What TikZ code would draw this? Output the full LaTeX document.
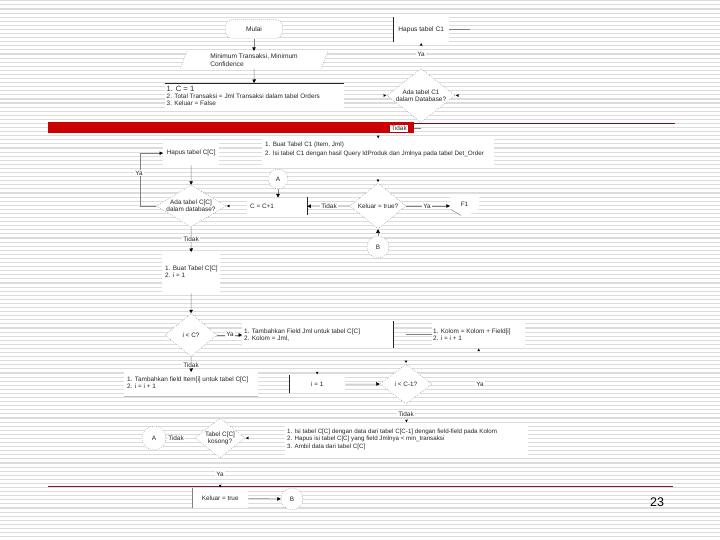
\documentclass[tikz,border=0pt]{standalone}
\usepackage{fontspec}
\setmainfont{Liberation Sans}
\usetikzlibrary{shapes.geometric,arrows.meta,calc}
\definecolor{stripe}{HTML}{DCDCDC}
\definecolor{barred}{HTML}{CC0000}
\definecolor{linered}{HTML}{8E0B0B}
\definecolor{botred}{HTML}{7A1C2C}
\begin{document}
\begin{tikzpicture}[x=1pt,y=-1pt,
  txt/.style={font=\fontsize{6.4}{7}\selectfont, text=black!85},
  box/.style={rectangle, fill=white, inner sep=0pt, anchor=north west, txt},
  btxt/.style={txt, inner sep=0pt, align=left, anchor=west},
  lbl/.style={txt, fill=white, inner sep=1pt},
  dotline/.style={draw=black!45, line width=0.5pt, dash pattern=on 0.6pt off 1.4pt},
  dia/.style={diamond, fill=white, dotline, inner sep=0pt, txt, align=center},
  conn/.style={circle, fill=white, dotline, inner sep=0pt, txt},
  vis/.style={draw=black!50, line width=0.5pt, -{Triangle[length=3.5pt,width=3.5pt,color=black]}},
  hid/.style={draw=white, draw opacity=0, line width=0.5pt, -{Triangle[length=3.5pt,width=3.5pt,color=black]}},
  seg/.style={draw=black!50, line width=0.5pt},
  bedge/.style={draw=black!85, line width=0.8pt},
]
\useasboundingbox (0,0) rectangle (720,540);
\fill[white] (0,0) rectangle (720,540);
\foreach \k in {0,...,131} {\draw[stripe, line width=1.1pt] (0,{0.8+\k*4.09}) -- (720,{0.8+\k*4.09});}
\draw[linered, line width=1.1pt] (48,123.8) -- (675,123.8);
\fill[barred] (48,122.5) rectangle (414,133);
\draw[botred, line width=1.1pt] (48,486.8) -- (673,486.8);

% ---------- top ----------
\node[box, anchor=center, minimum width=57pt, minimum height=19pt, rounded corners=7pt, dotline, font=\fontsize{6.6}{7}\selectfont] (mulai) at (254,29) {Mulai};
\fill[white] (187,51) -- (328,51) -- (321,69) -- (180,69) -- cycle;
\draw[dotline] (187,51) -- (180,69);
\draw[dotline] (328,51) -- (321,69);
\node[txt, align=left, inner sep=0pt, minimum height=18pt, font=\fontsize{6.6}{7.5}\selectfont] (param) at (254,60) {Minimum Transaksi, Minimum\\Confidence};
\node[box, minimum width=179pt, minimum height=25pt] (init) at (164.5,83) {};
\draw[bedge] (init.north west) -- (init.north east);
\node[btxt] (initT) at ($(init.west)+(2,0)$) {{\fontsize{7.6}{8}\selectfont 1. C = 1}\\2. Total Transaksi = Jml Transaksi dalam tabel Orders\\3. Keluar = False};
\node[box, minimum width=56pt, minimum height=25pt, font=\fontsize{6.6}{7}\selectfont] (hapus1) at (393,17) {Hapus tabel C1};
\draw[bedge] (hapus1.north west) -- (hapus1.south west);
\node[dia, minimum width=68pt, minimum height=54pt, aspect=1.26] (cek1) at (421,95.5) {Ada tabel C1\\dalam Database?};

% ---------- middle ----------
\node[box, minimum width=232pt, minimum height=26pt] (buat1) at (262,139) {};
\node[btxt, font=\fontsize{6.3}{9}\selectfont] (buat1T) at ($(buat1.west)+(3,-2.5)$) {1. Buat Tabel C1 (Item, Jml)\\2. Isi tabel C1 dengan hasil Query IdProduk dan Jmlnya pada tabel Det\_Order};
\node[box, minimum width=56pt, minimum height=24pt] (hapusC) at (163,141) {Hapus tabel C[C]};
\node[dia, minimum width=70pt, minimum height=42pt, aspect=1.67] (cekC) at (191,206) {Ada tabel C[C]\\dalam database?};
\node[conn, minimum size=20pt] (A1) at (278,179) {A};
\node[box, minimum width=60pt, minimum height=17pt] (ccplus) at (247,197.5) {};
\draw[bedge] (ccplus.north east) -- (ccplus.south east);
\node[btxt] (ccplusT) at ($(ccplus.west)+(3,0)$) {C = C+1};
\node[dia, minimum width=56pt, minimum height=46pt, aspect=1.22] (keluarQ) at (378,206) {Keluar = true?};
\node[conn, minimum size=22pt] (B1) at (378,247) {B};
\fill[white] (450,194) -- (479,194) -- (479,209) -- (464.5,217) -- (450,209) -- cycle;
\draw[seg] (451,209.5) -- (461,215.5);
\node[txt, inner sep=0pt, minimum width=29pt, minimum height=22pt] (f1) at (464.5,204) {F1};

% ---------- lower ----------
\node[box, minimum width=58pt, minimum height=41pt] (buatC) at (162,252) {};
\node[btxt, anchor=north west] (buatCT) at ($(buatC.north west)+(3,14)$) {1. Buat Tabel C[C]\\2. i = 1};
\node[dia, minimum width=52pt, minimum height=43pt, aspect=1.2] (iltC) at (191,335) {i < C?};
\node[box, minimum width=151pt, minimum height=27pt] (tambahJml) at (242,321) {};
\draw[bedge] (tambahJml.north east) -- (tambahJml.south east);
\node[btxt] (tambahJmlT) at ($(tambahJml.west)+(2,0)$) {1. Tambahkan Field Jml untuk tabel C[C]\\2. Kolom = Jml,};
\node[box, minimum width=93pt, minimum height=26pt] (kolom) at (432,321.5) {};
\node[btxt] (kolomT) at ($(kolom.west)+(1,0)$) {1. Kolom = Kolom + Field[i]\\2. i = i + 1};
\node[box, minimum width=134pt, minimum height=24pt] (tambahItem) at (124,372) {};
\draw[draw=black!25, line width=0.5pt] (tambahItem.south west) -- (tambahItem.south east);
\node[btxt] (tambahItemT) at ($(tambahItem.west)+(3,-2)$) {1. Tambahkan field Item[i] untuk tabel C[C]\\2. i = i + 1};
\node[box, minimum width=56pt, minimum height=18pt] (ieq1) at (289,375) {i = 1};
\draw[bedge] (ieq1.north west) -- (ieq1.south west);
\node[dia, minimum width=52pt, minimum height=40pt, aspect=1.3] (iltC1) at (406,384) {i < C-1?};
\node[box, minimum width=243pt, minimum height=32pt] (isi) at (285,423) {};
\node[btxt, font=\fontsize{6.2}{7.5}\selectfont] (isiT) at ($(isi.west)+(2,0)$) {1. Isi tabel C[C] dengan data dari tabel C[C-1] dengan field-field pada Kolom\\2. Hapus isi tabel C[C] yang field Jmlnya < min\_transaksi\\3. Ambil data dari tabel C[C]};
\node[dia, minimum width=50pt, minimum height=40pt, aspect=1.25] (kosong) at (220,438) {Tabel C[C]\\kosong?};
\node[conn, minimum size=24pt] (A2) at (154,438) {A};
\node[box, minimum width=56pt, minimum height=20pt] (keluarTrue) at (192,488) {Keluar = true};
\draw[draw=black!50, line width=0.6pt] (keluarTrue.north west) -- (keluarTrue.south west);
\node[conn, minimum size=22pt] (B2) at (292,499) {B};
\node[inner sep=0pt, font=\fontsize{12.5}{14}\selectfont] (pg) at (657,502.5) {23};

% ---------- connectors ----------
\draw[vis] (mulai) -- (param);
\draw[vis] (param) -- (init);
\draw[hid] (init.east) -- (cek1.west);
\draw[hid] (cek1.north) -- (hapus1.south);
\draw[seg] (hapus1.east) -- ++(21,0) coordinate (h1r);
\draw[hid] (h1r) |- (cek1.east);
\draw[hid] (cek1.south) -- ++(0,6) coordinate (t1) -| (buat1.north);
\draw[seg] (t1) -- ++(-7,0);
\draw[hid] (buat1.south) -- (keluarQ.north);
\draw[vis] (keluarQ.west) -- (ccplus.east);
\draw[hid] (ccplus.west) -- (cekC.east);
\draw[vis] (A1) -- (A1 |- ccplus.north);
\draw[vis] (B1) -- (keluarQ.south);
\draw[vis] (keluarQ.east) -- (keluarQ.east -| f1.west);
\draw[vis] (cekC.west) -- ++(-16,0) |- (hapusC.west);
\draw[vis] (hapusC) -- (cekC);
\draw[vis] (cekC) -- (buatC);
\draw[vis] (buatC) -- (iltC);
\draw[vis] (iltC.east) -- (iltC.east -| tambahJml.west);
\draw[hid] (tambahJml.south -| ieq1.north) -- (ieq1.north);
\draw[vis] (ieq1.east) -- (iltC1.west);
\draw[hid] (iltC1.east) -| (kolom.south);
\draw[hid] (kolom.west) -| (iltC1.north);
\draw[seg] (kolom.west) -- (kolom.west -| iltC1.north);
\draw[vis] (iltC) -- (tambahItem);
\draw[hid] (iltC1) -- (isi);
\draw[hid] (isi.west) -- (kosong.east);
\draw[hid] (kosong) -- (A2);
\draw[hid] (kosong) -- (keluarTrue);
\draw[vis] (keluarTrue) -- (B2);

% ---------- labels ----------
\node[lbl] (ya1) at (421,54) {Ya};
\node[lbl] (tidak1) at (399,128.5) {Tidak};
\node[lbl] (ya2) at (139,173) {Ya};
\node[lbl] (tidak2) at (329,206) {Tidak};
\node[lbl] (ya3) at (427,206) {Ya};
\node[lbl] (tidak3) at (191,239) {Tidak};
\node[lbl] (ya4) at (230,334.5) {Ya};
\node[lbl] (tidak4) at (191,365) {Tidak};
\node[lbl] (ya5) at (480,384) {Ya};
\node[lbl] (tidak5) at (406,414) {Tidak};
\node[lbl] (tidak6) at (176,438) {Tidak};
\node[lbl] (ya6) at (220,474) {Ya};
\end{tikzpicture}
\end{document}
